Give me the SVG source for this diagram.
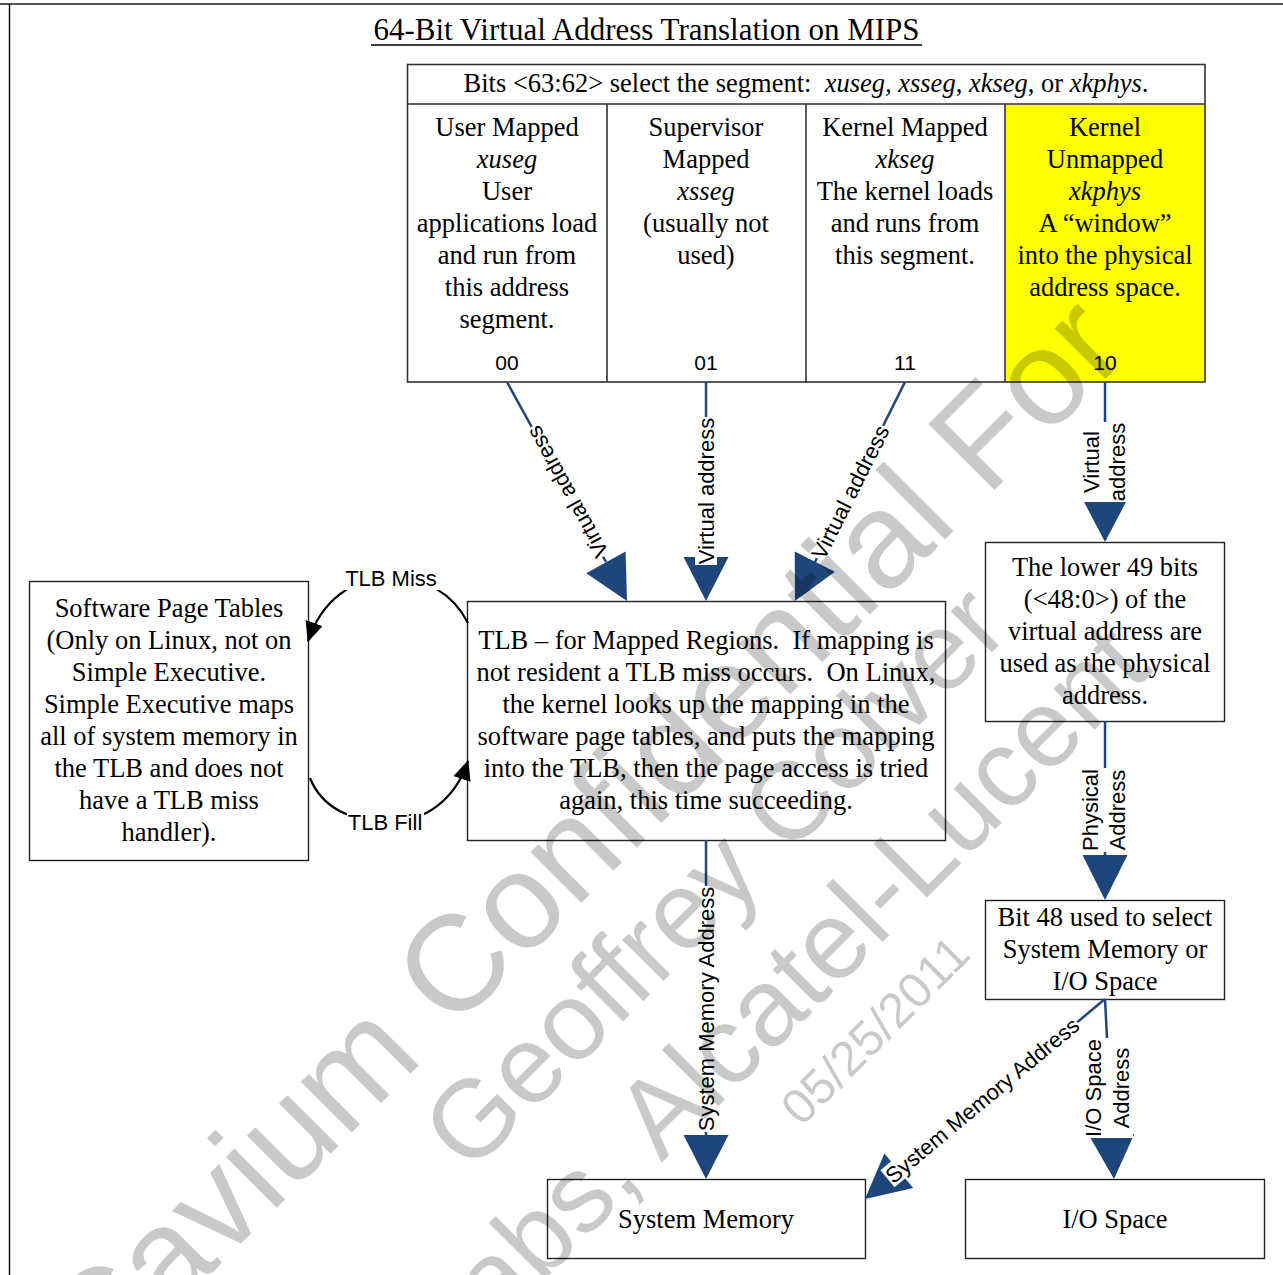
<svg xmlns="http://www.w3.org/2000/svg" width="1283" height="1275" viewBox="0 0 1283 1275">
  <style>
    .frame { fill: none; stroke: #000; stroke-width: 1.4; }
    .box { fill: #fff; stroke: #222; stroke-width: 1.4; }
    .cell { fill: none; stroke: #333; stroke-width: 1.6; }
    .serif { font-family: "Liberation Serif", "Times New Roman", serif; font-size: 26.5px; fill: #000; text-anchor: middle; }
    .it { font-style: italic; }
    .sans { font-family: "Liberation Sans", Arial, sans-serif; font-size: 22px; fill: #000; text-anchor: middle; }
    .bits { font-family: "Liberation Sans", Arial, sans-serif; font-size: 21px; fill: #000; text-anchor: middle; }
    .conn { fill: none; stroke: #1f467a; stroke-width: 2.5; }
    .head { fill: #1f467a; }
    .loop { fill: none; stroke: #000; stroke-width: 2.2; }
    .bg { fill: #fff; }
    .wm { font-family: "Liberation Sans", Arial, sans-serif; fill: #000; fill-opacity: 0.21; dominant-baseline: central; }
  </style>
  <defs>
    <marker id="blackHead" viewBox="0 0 20 18" refX="19" refY="9" markerWidth="20" markerHeight="18" markerUnits="userSpaceOnUse" orient="auto">
      <path d="M0,0 L20,9 L0,18 z" fill="#000"/>
    </marker>
  </defs>

  <rect width="1283" height="1275" fill="#fff"/>

  <!-- page frame -->
  <line x1="0" y1="4" x2="1283" y2="4" stroke="#555" stroke-width="2.2"/>
  <line x1="9.5" y1="4" x2="9.5" y2="1275" class="frame"/>

  <!-- title -->
  <text x="646.5" y="40" class="serif" style="font-size:31px">64-Bit Virtual Address Translation on MIPS</text>
  <line x1="371" y1="45" x2="922" y2="45" stroke="#000" stroke-width="1.4"/>

  <!-- segment table -->
  <g id="segment-table">
    <rect x="1005" y="104" width="200" height="278" fill="#ffff00"/>
    <rect x="407.5" y="64.5" width="797.5" height="317.5" class="cell"/>
    <line x1="407.5" y1="104" x2="1205" y2="104" class="cell"/>
    <line x1="607" y1="104" x2="607" y2="382" class="cell"/>
    <line x1="806" y1="104" x2="806" y2="382" class="cell"/>
    <line x1="1005" y1="104" x2="1005" y2="382" class="cell"/>
    <text x="806" y="92" class="serif">Bits &lt;63:62&gt; select the segment:&#160; <tspan class="it">xuseg, xsseg</tspan>, <tspan class="it">xkseg</tspan>, or <tspan class="it">xkphys</tspan>.</text>
  </g>

  <g id="seg-xuseg">
    <text class="serif" x="507" y="136">User Mapped</text>
    <text class="serif it" x="507" y="168">xuseg</text>
    <text class="serif" x="507" y="200">User</text>
    <text class="serif" x="507" y="232">applications load</text>
    <text class="serif" x="507" y="264">and run from</text>
    <text class="serif" x="507" y="296">this address</text>
    <text class="serif" x="507" y="328">segment.</text>
    <text class="bits" x="507" y="370">00</text>
  </g>

  <g id="seg-xsseg">
    <text class="serif" x="706" y="136">Supervisor</text>
    <text class="serif" x="706" y="168">Mapped</text>
    <text class="serif it" x="706" y="200">xsseg</text>
    <text class="serif" x="706" y="232">(usually not</text>
    <text class="serif" x="706" y="264">used)</text>
    <text class="bits" x="706" y="370">01</text>
  </g>

  <g id="seg-xkseg">
    <text class="serif" x="905" y="136">Kernel Mapped</text>
    <text class="serif it" x="905" y="168">xkseg</text>
    <text class="serif" x="905" y="200">The kernel loads</text>
    <text class="serif" x="905" y="232">and runs from</text>
    <text class="serif" x="905" y="264">this segment.</text>
    <text class="bits" x="905" y="370">11</text>
  </g>

  <g id="seg-xkphys">
    <text class="serif" x="1105" y="136">Kernel</text>
    <text class="serif" x="1105" y="168">Unmapped</text>
    <text class="serif it" x="1105" y="200">xkphys</text>
    <text class="serif" x="1105" y="232">A “window”</text>
    <text class="serif" x="1105" y="264">into the physical</text>
    <text class="serif" x="1105" y="296">address space.</text>
    <text class="bits" x="1105" y="370">10</text>
  </g>

  <g id="page-tables">
    <rect x="29.5" y="581.5" width="279" height="279" class="box"/>
    <text class="serif" x="169" y="617">Software Page Tables</text>
    <text class="serif" x="169" y="649">(Only on Linux, not on</text>
    <text class="serif" x="169" y="681">Simple Executive.</text>
    <text class="serif" x="169" y="713">Simple Executive maps</text>
    <text class="serif" x="169" y="745">all of system memory in</text>
    <text class="serif" x="169" y="777">the TLB and does not</text>
    <text class="serif" x="169" y="809">have a TLB miss</text>
    <text class="serif" x="169" y="841">handler).</text>
  </g>

  <g id="tlb">
    <rect x="467.5" y="601.5" width="478" height="239" class="box"/>
    <text class="serif" x="706" y="649" xml:space="preserve">TLB – for Mapped Regions.  If mapping is</text>
    <text class="serif" x="706" y="681" xml:space="preserve">not resident a TLB miss occurs.  On Linux,</text>
    <text class="serif" x="706" y="713">the kernel looks up the mapping in the</text>
    <text class="serif" x="706" y="745">software page tables, and puts the mapping</text>
    <text class="serif" x="706" y="777">into the TLB, then the page access is tried</text>
    <text class="serif" x="706" y="809">again, this time succeeding.</text>
  </g>

  <g id="unmapped-translation">
    <rect x="985.5" y="542.5" width="239" height="179" class="box"/>
    <text class="serif" x="1105" y="576">The lower 49 bits</text>
    <text class="serif" x="1105" y="608">(&lt;48:0&gt;) of the</text>
    <text class="serif" x="1105" y="640">virtual address are</text>
    <text class="serif" x="1105" y="672">used as the physical</text>
    <text class="serif" x="1105" y="704">address.</text>
  </g>

  <g id="bit48-select">
    <rect x="985.5" y="900.5" width="239" height="99" class="box"/>
    <text class="serif" x="1105" y="926">Bit 48 used to select</text>
    <text class="serif" x="1105" y="958">System Memory or</text>
    <text class="serif" x="1105" y="990">I/O Space</text>
  </g>

  <g id="system-memory">
    <rect x="547.5" y="1179.5" width="318" height="79" class="box"/>
    <text class="serif" x="706" y="1228">System Memory</text>
  </g>

  <g id="io-space">
    <rect x="965.5" y="1179.5" width="299" height="79" class="box"/>
    <text class="serif" x="1115" y="1228">I/O Space</text>
  </g>

  <g id="connectors">
    <!-- segment selectors to TLB / unmapped box -->
    <line class="conn" x1="507" y1="382" x2="606" y2="562"/>
    <polygon class="head" points="627,601 625.6,551.6 586.2,573.2"/>
    <g transform="translate(567,492) rotate(-118.7)">
      <rect class="bg" x="-74" y="-11" width="148" height="22"/>
      <text class="sans" y="8">Virtual address</text>
    </g>

    <line class="conn" x1="706" y1="382" x2="706" y2="557"/>
    <polygon class="head" points="706,601 683.5,557 728.5,557"/>
    <g transform="translate(706,491) rotate(-90)">
      <rect class="bg" x="-74" y="-11" width="148" height="22"/>
      <text class="sans" y="8">Virtual address</text>
    </g>

    <line class="conn" x1="905" y1="382" x2="815" y2="562"/>
    <polygon class="head" points="795,601 834.9,571.8 794.7,551.6"/>
    <g transform="translate(850,492) rotate(-63.3)">
      <rect class="bg" x="-74" y="-11" width="148" height="22"/>
      <text class="sans" y="8">Virtual address</text>
    </g>

    <line class="conn" x1="1105" y1="382" x2="1105" y2="500"/>
    <polygon class="head" points="1105,542 1083,500 1127,500"/>
    <g transform="translate(1105,462) rotate(-90)">
      <rect class="bg" x="-40" y="-24" width="80" height="48"/>
      <text class="sans" y="-6">Virtual</text>
      <text class="sans" y="20">address</text>
    </g>

    <!-- unmapped box to bit-48 select -->
    <line class="conn" x1="1105" y1="721" x2="1105" y2="855"/>
    <polygon class="head" points="1105,900 1082.5,855 1127.5,855"/>
    <g transform="translate(1105,810) rotate(-90)">
      <rect class="bg" x="-42" y="-24" width="84" height="48"/>
      <text class="sans" y="-7">Physical</text>
      <text class="sans" y="20">Address</text>
    </g>

    <!-- TLB to system memory -->
    <line class="conn" x1="706" y1="840" x2="706" y2="1135"/>
    <polygon class="head" points="706,1179 683.5,1135 728.5,1135"/>
    <g transform="translate(706,1009) rotate(-90)">
      <rect class="bg" x="-123" y="-11" width="246" height="22"/>
      <text class="sans" y="8">System Memory Address</text>
    </g>

    <!-- bit-48 select to system memory / I/O space -->
    <line class="conn" x1="1105" y1="999" x2="899" y2="1171"/>
    <polygon class="head" points="865,1199 913.2,1188.1 884.4,1153.5"/>
    <g transform="translate(982,1100) rotate(-39.8)">
      <rect class="bg" x="-123" y="-11" width="246" height="22"/>
      <text class="sans" y="8">System Memory Address</text>
    </g>

    <line class="conn" x1="1105" y1="999" x2="1112" y2="1135"/>
    <polygon class="head" points="1114,1179 1134.3,1134 1089.3,1136"/>
    <g transform="translate(1109,1088) rotate(-90)">
      <rect class="bg" x="-50" y="-24" width="100" height="48"/>
      <text class="sans" y="-8">I/O Space</text>
      <text class="sans" y="20">Address</text>
    </g>

    <!-- TLB miss / fill loop -->
    <path class="loop" d="M468,623 C452,592 425,578 390,578 C352,578 322,600 308,641" marker-end="url(#blackHead)"/>
    <rect class="bg" x="343" y="566" width="97" height="24"/>
    <text class="sans" x="391" y="586">TLB Miss</text>
    <path class="loop" d="M310,778 C322,808 352,822 388,822 C425,822 455,800 468,761" marker-end="url(#blackHead)"/>
    <rect class="bg" x="347" y="811" width="77" height="23"/>
    <text class="sans" x="385" y="830">TLB Fill</text>
  </g>

  <!-- distribution watermark -->
  <g id="watermark">
    <text class="wm" style="font-size:136px" transform="translate(66,1352) rotate(-45)">Cavium Confidential For</text>
    <text class="wm" style="font-size:110px" transform="translate(442,1148) rotate(-45)">Geoffrey Colver</text>
    <text class="wm" style="font-size:110px" transform="translate(275,1495) rotate(-45)">Bell Labs, Alcatel-Lucent</text>
    <text class="wm" style="font-size:49px; text-anchor:middle" transform="translate(875,1030) rotate(-45)">05/25/2011</text>
  </g>
</svg>
